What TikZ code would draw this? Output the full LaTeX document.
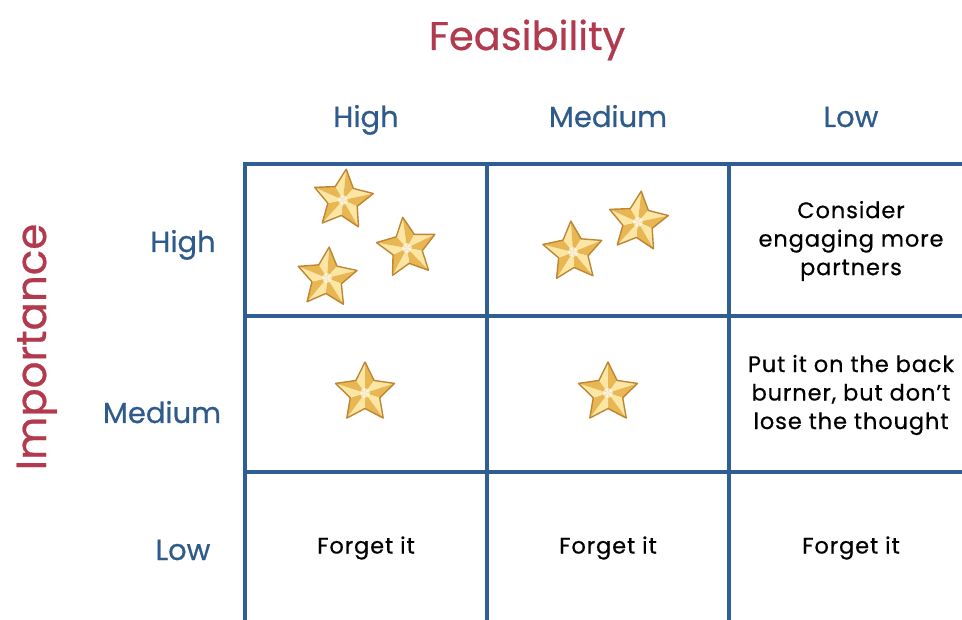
\documentclass[tikz,border=0pt]{standalone}
\usepackage{fontspec}
\setmainfont{Poppins}
\newfontfamily\hdrfont{Poppins}[FakeBold=0.6]
\newfontfamily\cellfont{Poppins}[FakeBold=0.5, LetterSpace=4]
\definecolor{gridblue}{HTML}{2F5E93}
\definecolor{hdrblue}{HTML}{2E5B8C}
\definecolor{titlered}{HTML}{B23A4E}
\definecolor{starlight}{HTML}{FCE6A4}
\definecolor{stardark}{HTML}{E8B652}
\definecolor{starline}{HTML}{BE8633}
\tikzset{
  gridline/.style={draw=gridblue, line width=4.5pt},
  axistitle/.style={text=titlered, font=\hdrfont\fontsize{40}{48}\selectfont, anchor=base},
  colhdr/.style={text=hdrblue, font=\hdrfont\fontsize{29}{34}\selectfont, anchor=base},
  rowhdr/.style={text=hdrblue, font=\hdrfont\fontsize{29}{34}\selectfont, anchor=base},
  celltext/.style={text=black, font=\cellfont\fontsize{22.5}{28.5}\selectfont, align=center},
  goldstar/.pic={
    \foreach \k in {0,...,4}{
      \fill[starlight] (0,0) -- (-90+72*\k:31) -- (-90+72*\k-36:15.5) -- cycle;
      \fill[stardark] (0,0) -- (-90+72*\k:31) -- (-90+72*\k+36:15.5) -- cycle;
    }
    \fill[white, opacity=0.6] (0,0) circle (5);
    \draw[starline, line width=1.4pt, line join=round]
      (-90:31) -- (-54:15.5) -- (-18:31) -- (18:15.5) -- (54:31) -- (90:15.5)
      -- (126:31) -- (162:15.5) -- (198:31) -- (234:15.5) -- cycle;
  }
}
\begin{document}
\begin{tikzpicture}[x=1pt,y=-1pt]
\useasboundingbox (0,0) rectangle (962,620);
\clip (0,0) rectangle (962,620);

% axis titles
\node[axistitle] (feas) at (527,50) {Feasibility};
\node[axistitle, rotate=90, font=\hdrfont\fontsize{42}{48}\selectfont] (imp) at (46,347) {Importance};

% column headers
\node[colhdr] (chigh) at (366,127) {High};
\node[colhdr] (cmed) at (608,127) {Medium};
\node[colhdr] (clow) at (851,127) {Low};

% row headers
\node[rowhdr] (rhigh) at (183,252) {High};
\node[rowhdr] (rmed) at (162,423) {Medium};
\node[rowhdr] (rlow) at (183,560) {Low};

% grid
\draw[gridline] (245,164) -- (975,164);
\draw[gridline] (245,316) -- (975,316);
\draw[gridline] (245,472) -- (975,472);
\draw[gridline] (245,162) -- (245,625);
\draw[gridline] (487,162) -- (487,625);
\draw[gridline] (729,162) -- (729,625);

% stars
\pic[rotate=-6] at (343,200) {goldstar};
\pic[rotate=8] at (407,248) {goldstar};
\pic[rotate=-4] at (327,278) {goldstar};
\pic[rotate=4] at (573,252) {goldstar};
\pic[rotate=-6] at (638,222) {goldstar};
\pic at (365,393) {goldstar};
\pic at (608,393) {goldstar};

% cell texts
\node[celltext] (c13) at (851,241) {Consider\\engaging more\\partners};
\node[celltext] (c23) at (851,395) {Put it on the back\\burner, but don’t\\lose the thought};
\node[celltext] (c31) at (366,548) {Forget it};
\node[celltext] (c32) at (608,548) {Forget it};
\node[celltext] (c33) at (851,548) {Forget it};
\end{tikzpicture}
\end{document}
